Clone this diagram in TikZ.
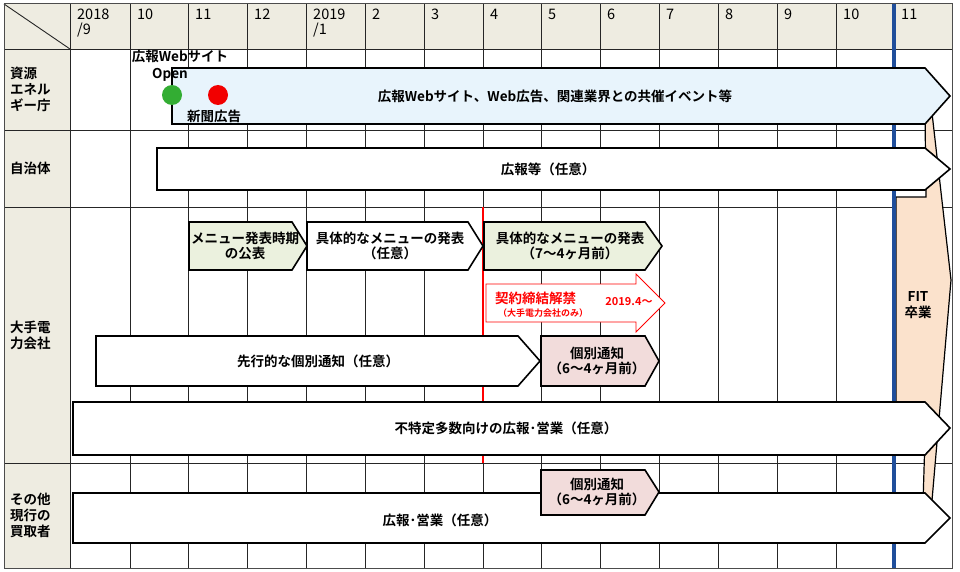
\documentclass[tikz,border=0pt]{standalone}
\usepackage{fontspec}
\setmainfont{Noto Sans CJK JP}[BoldFont={Noto Sans CJK JP Bold}]
\begin{document}
\begin{tikzpicture}[x=1pt,y=-1pt,
  grid/.style={line width=0.9pt,black!85},
  arr/.style={line width=1.6pt,black,line join=miter},
  lbl/.style={font=\bfseries\fontsize{13.5}{15.5}\selectfont,align=center,inner sep=0pt},
  rlbl/.style={font=\bfseries\fontsize{13.5}{16}\selectfont,align=left,anchor=west,inner sep=0pt},
  hdr/.style={font=\fontsize{14.5}{15}\selectfont,align=left,anchor=north west,inner sep=0pt}]
\definecolor{beige}{HTML}{EEECE1}
\definecolor{lblue}{HTML}{E8F4FC}
\definecolor{lgreen}{HTML}{EBF1DE}
\definecolor{lpink}{HTML}{F2DCDB}
\definecolor{peach}{HTML}{FBE2CC}
\definecolor{fitblue}{HTML}{1F4E9B}
\useasboundingbox (0,0) rectangle (960,572);
\fill[white] (0,0) rectangle (960,572);
% header and label column
\fill[beige] (4,4) rectangle (952,49);
\fill[beige] (4,49) rectangle (70,568);
% vertical grid lines
\foreach \x in {70,130,188,247,306,365,424,483,541,600,659,718,777,836,894}
  \draw[grid] (\x,4) -- (\x,568);
\foreach \y in {49,130,207,463}
  \draw[grid] (4,\y) -- (952,\y);
\draw[grid] (4,4) -- (70,49);
\draw[line width=1pt,black!70] (4,4) rectangle (952,568);
% header labels
\foreach \x/\t in {77/{2018\\/9},137/10,195/11,254/12,313/{2019\\/1},372/2,431/3,490/4,548/5,607/6,666/7,725/8,784/9,843/10,901/11}
  \node[hdr] at (\x,9) {\t};
% row labels
\node[rlbl] (r1) at (10,89) {資源\\エネル\\ギー庁};
\node[rlbl] (r2) at (10,168) {自治体};
\node[rlbl] (r3) at (10,335) {大手電\\力会社};
\node[rlbl] (r4) at (10,515) {その他\\現行の\\買取者};
% FIT shape
\draw[arr,fill=peach,line width=1.2pt] (896,197) -- (926,197) -- (925,113) -- (932,113) -- (951,280) -- (929,535) -- (922,535) -- (926,405) -- (896,405) -- cycle;
\node[lbl] (fit) at (918,305) {FIT\\卒業};
% blue line
\draw[fitblue,line width=4pt] (894,4) -- (894,568);
% red line
\draw[red,line width=1.8pt] (483,207) -- (483,463);
% arrows
\newcommand{\harr}[7]{\draw[arr,fill=#1] (#2,#3) -- (#6,#3) -- (#4,#7) -- (#6,#5) -- (#2,#5) -- cycle;}
\harr{lblue}{172}{68}{950}{124}{925}{96}
\node[lbl] (a1) at (555,96) {広報Webサイト、Web広告、関連業界との共催イベント等};
\harr{white}{157}{148}{950}{190}{925}{169}
\node[lbl] (a2) at (548,169) {広報等（任意）};
\harr{lgreen}{189}{222}{307}{270}{292}{246}
\node[lbl] (a3) at (245,246) {メニュー発表時期\\の公表};
\harr{white}{307}{222}{483}{270}{468}{246}
\node[lbl] (a4) at (390,246) {具体的なメニューの発表\\（任意）};
\harr{lgreen}{484}{222}{662}{270}{645}{246}
\node[lbl] (a5) at (570,246) {具体的なメニューの発表\\（7～4ヶ月前）};
\draw[red,line width=0.8pt,fill=white] (486,284) -- (636,284) -- (636,274) -- (665,303) -- (636,332) -- (636,322) -- (486,322) -- cycle;
\node[lbl,red,anchor=west] (a6) at (495,298) {契約締結解禁};
\node[lbl,red,font=\bfseries\fontsize{9}{10}\selectfont,anchor=west] (a6b) at (498,313) {（大手電力会社のみ）};
\node[lbl,red,font=\bfseries\fontsize{11}{12}\selectfont] (a6c) at (629,302) {2019.4～};
\harr{white}{96}{336}{540}{386}{518}{361}
\node[lbl] (a7) at (318,361) {先行的な個別通知（任意）};
\harr{lpink}{541}{336}{659}{386}{645}{361}
\node[lbl] (a8) at (597,361) {個別通知\\（6～4ヶ月前）};
\harr{white}{73}{402}{950}{455}{925}{428}
\node[lbl] (a9) at (506,428) {不特定多数向けの広報･営業（任意）};
\harr{white}{73}{493}{950}{543}{925}{518}
\node[lbl] (a10) at (440,520) {広報･営業（任意）};
\harr{lpink}{541}{470}{659}{515}{645}{492}
\node[lbl] (a11) at (597,492) {個別通知\\（6～4ヶ月前）};
% dots
\fill[green!60!black!80] (172,95) circle (10);
\fill[red!95!black] (218,95) circle (10);
\node[lbl] (w1) at (180,56) {広報Webサイト};
\node[lbl] (w2) at (170,75) {Open};
\node[lbl] (w3) at (214,116) {新聞広告};
\end{tikzpicture}
\end{document}
